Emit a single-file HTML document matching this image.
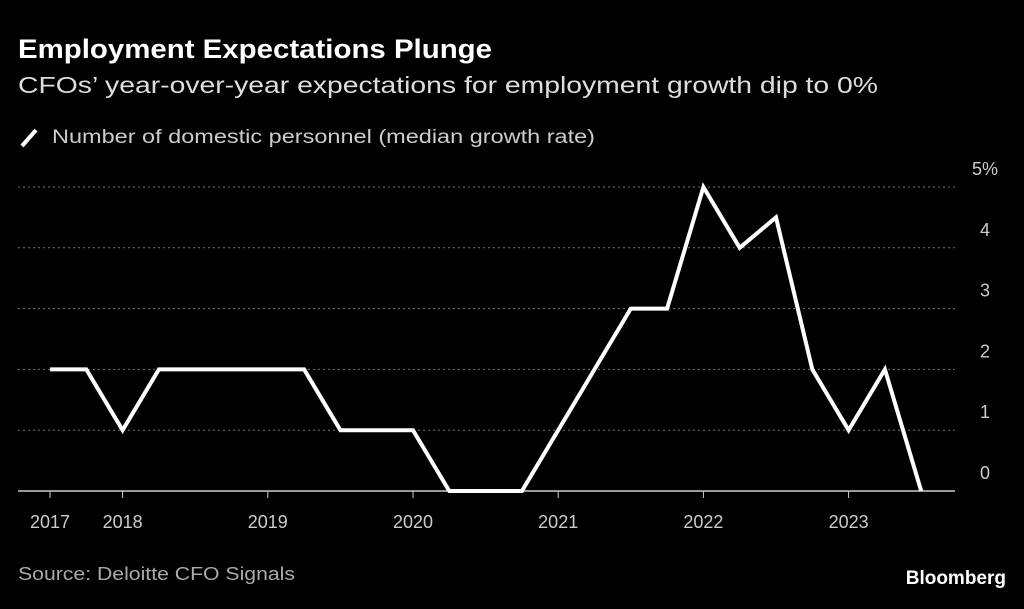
<!DOCTYPE html>
<html><head><meta charset="utf-8"><style>
body{margin:0;background:#000;width:1024px;height:604px;overflow:hidden;font-family:"Liberation Sans",sans-serif;color:#fff}
svg text{font-family:"Liberation Sans",sans-serif}
</style></head><body>
<svg width="1024" height="604">
<text x="18" y="58" font-size="27" font-weight="bold" fill="#fff" textLength="474" lengthAdjust="spacingAndGlyphs">Employment Expectations Plunge</text>
<text x="18" y="93" font-size="23" fill="#ddd" textLength="860" lengthAdjust="spacingAndGlyphs">CFOs’ year-over-year expectations for employment growth dip to 0%</text>
<line x1="22" y1="146" x2="36" y2="130" stroke="#fff" stroke-width="4"/>
<text x="52" y="143" font-size="19" fill="#ccc" textLength="543" lengthAdjust="spacingAndGlyphs">Number of domestic personnel (median growth rate)</text>
<g id="grid"></g><g id="xaxis"></g>
<path id="line" fill="none" stroke="#fff" stroke-width="4" stroke-linejoin="miter"/>
<text x="18" y="580" font-size="18" fill="#aaa" textLength="277" lengthAdjust="spacingAndGlyphs">Source: Deloitte CFO Signals</text>
<text x="1006" y="584" font-size="19" font-weight="bold" fill="#fff" text-anchor="end">Bloomberg</text>
</svg>
<script>
const values=[2,2,1,2,2,2,2,2,1,1,1,0,0,0,1,2,3,3,5,4,4.5,2,1,2,0];
const startYear=2017.5;
const yTicks=[0,1,2,3,4,5];
const xTicks=[2017.5,2018,2019,2020,2021,2022,2023];
const xTickLabels=["2017","2018","2019","2020","2021","2022","2023"];
const ns="http://www.w3.org/2000/svg";
const X=t=>50+(t-2017.5)*145.2;
const Y=v=>491-v*60.8;
const g=document.getElementById('grid'),xa=document.getElementById('xaxis');
yTicks.forEach(v=>{
 const l=document.createElementNS(ns,'line');
 l.setAttribute('x1',18);l.setAttribute('x2',955);l.setAttribute('y1',Y(v));l.setAttribute('y2',Y(v));
 l.setAttribute('stroke',v===0?'#ccc':'#777');l.setAttribute('stroke-width',v===0?1.5:1);
 if(v!==0)l.setAttribute('stroke-dasharray','2,3');
 
 
 g.appendChild(l);
 const t=document.createElementNS(ns,'text');
 t.setAttribute('x',v===5?972:980);t.setAttribute('y',Y(v)-12);t.setAttribute('font-size','18');t.setAttribute('fill','#ccc');
 t.textContent=v===5?'5%':String(v);
 
 
 g.appendChild(t);
});
xTicks.forEach((v,i)=>{
 const l=document.createElementNS(ns,'line');
 l.setAttribute('x1',X(v));l.setAttribute('x2',X(v));l.setAttribute('y1',491);l.setAttribute('y2',498);l.setAttribute('stroke','#ccc');
 
 
 xa.appendChild(l);
 const t=document.createElementNS(ns,'text');
 t.setAttribute('x',X(v));t.setAttribute('y',528);t.setAttribute('font-size','18');t.setAttribute('fill','#ccc');t.setAttribute('text-anchor','middle');
 t.textContent=xTickLabels[i];
 
 
 xa.appendChild(t);
});
document.getElementById('line').setAttribute('d',values.map((v,i)=>(i?'L':'M')+X(startYear+i*0.25)+','+Y(v)).join(' '));
</script>
</body></html>
